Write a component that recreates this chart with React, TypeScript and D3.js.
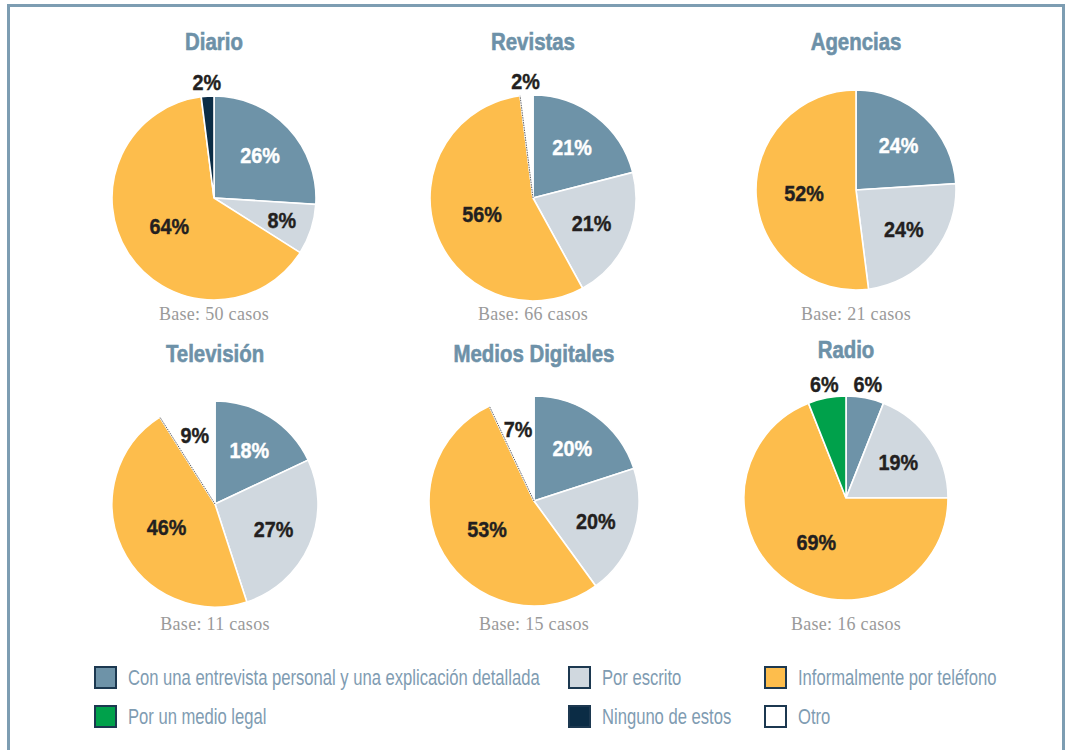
import React from "react";
import * as d3 from "d3";

const categories = [
  "Con una entrevista personal y una explicación detallada",
  "Por escrito",
  "Informalmente por teléfono",
  "Por un medio legal",
  "Ninguno de estos",
  "Otro",
];
const categoryColors = ["#6e93a8", "#d0d8df", "#fdbd4c", "#00a14b", "#0b2c45", "#ffffff"];

const mediaTitles = ["Diario", "Revistas", "Agencias", "Televisión", "Medios Digitales", "Radio"];
const baseCases = [50, 66, 21, 11, 15, 16];

const diario = [26, 8, 64, 0, 2, 0];
const revistas = [21, 21, 56, 0, 0, 2];
const agencias = [24, 24, 52, 0, 0, 0];
const television = [18, 27, 46, 0, 0, 9];
const mediosDigitales = [20, 20, 53, 0, 0, 7];
const radio = [6, 19, 69, 6, 0, 0];
const seriesValues = [diario, revistas, agencias, television, mediosDigitales, radio];

// layout (pie centers / radii)
const layout = [
  { cx: 214, cy: 198, r: 102, titleY: 50, baseY: 320 },
  { cx: 533, cy: 198, r: 103, titleY: 50, baseY: 320 },
  { cx: 856, cy: 190, r: 100, titleY: 50, baseY: 320 },
  { cx: 215, cy: 504, r: 103, titleY: 362, baseY: 630 },
  { cx: 534, cy: 501, r: 105, titleY: 362, baseY: 630 },
  { cx: 846, cy: 498, r: 102, titleY: 358, baseY: 630 },
];

const legendCols = [94, 568, 764];
const legendRows = [666, 705];
const legendOrder = [
  [0, 0, 0],
  [1, 1, 0],
  [2, 2, 0],
  [3, 0, 1],
  [4, 1, 1],
  [5, 2, 1],
];

const sans = "'Liberation Sans', Arial, sans-serif";

function labelRadiusFactor(v: number) {
  if (v < 7) return 1.14;
  if (v > 40) return 0.52;
  if (v < 15) return 0.7;
  return 0.62;
}

function Pie({ idx }: { idx: number }) {
  const L = layout[idx];
  const vals = seriesValues[idx];
  const data = vals.map((v, i) => ({ v, i })).filter((d) => d.v > 0);
  const pie = d3.pie<{ v: number; i: number }>().sort(null).value((d) => d.v);
  const arcs = pie(data);
  const arc = d3.arc<d3.PieArcDatum<{ v: number; i: number }>>().innerRadius(0).outerRadius(L.r);
  return (
    <g>
      <text
        transform={`translate(${L.cx},${L.titleY}) scale(0.85,1)`}
        textAnchor="middle"
        fontFamily={sans}
        fontWeight="bold"
        fontSize={24}
        fill="#6d91a8"
        stroke="#6d91a8"
        strokeWidth={0.6}
      >
        {mediaTitles[idx]}
      </text>
      <g transform={`translate(${L.cx},${L.cy})`}>
        {arcs.map((a) => (
          <path key={a.data.i} d={arc(a) || ""} fill={categoryColors[a.data.i]} stroke="#ffffff" strokeWidth={1.6} />
        ))}
        {arcs
          .filter((a) => a.data.i === 5)
          .map((a) => {
            const ang = a.startAngle;
            return (
              <line
                key="otroEdge"
                x1={0}
                y1={0}
                x2={Math.sin(ang) * L.r}
                y2={-Math.cos(ang) * L.r}
                stroke="#3a3a3a"
                strokeWidth={0.8}
                strokeDasharray="1.5 1"
              />
            );
          })}
        {arcs.map((a) => {
          const f = labelRadiusFactor(a.data.v);
          const la = d3.arc<any>().innerRadius(L.r * f).outerRadius(L.r * f);
          const [x, y] = la.centroid(a);
          const outside = a.data.v < 7;
          const col = a.data.i === 0 && !outside ? "#ffffff" : "#231f20";
          return (
            <text
              key={"l" + a.data.i}
              transform={`translate(${x},${y}) scale(0.9,1)`}
              dy="0.36em"
              textAnchor="middle"
              fontFamily={sans}
              fontWeight={700}
              fontSize={22}
              fill={col}
              stroke={col}
              strokeWidth={0.4}
            >
              {a.data.v}%
            </text>
          );
        })}
      </g>
      <text
        x={L.cx}
        y={L.baseY}
        textAnchor="middle"
        fontFamily="'Liberation Serif', 'DejaVu Serif', serif"
        fontSize={18}
        letterSpacing={0.3}
        fill="#9a9a9a"
      >
        {`Base: ${baseCases[idx]} casos`}
      </text>
    </g>
  );
}

export default function App() {
  return (
    <svg
      width={1065}
      height={750}
      style={{ position: "absolute", left: 0, top: 0, display: "block", background: "#ffffff" }}
    >
      <rect x={8.5} y={5.5} width={1055} height={800} fill="#ffffff" stroke="#7d9db2" strokeWidth={3} />
      {mediaTitles.map((_, i) => (
        <Pie key={i} idx={i} />
      ))}
      {legendOrder.map(([ci, col, row]) => (
        <g key={ci} transform={`translate(${legendCols[col]},${legendRows[row]})`}>
          <rect x={1} y={1} width={21} height={21} fill={categoryColors[ci]} stroke="#1c3850" strokeWidth={2} />
          <text
            transform="translate(34,18.5) scale(0.755,1)"
            fontFamily={sans}
            fontSize={22}
            fill="#7f9cb2"
          >
            {categories[ci]}
          </text>
        </g>
      ))}
    </svg>
  );
}
